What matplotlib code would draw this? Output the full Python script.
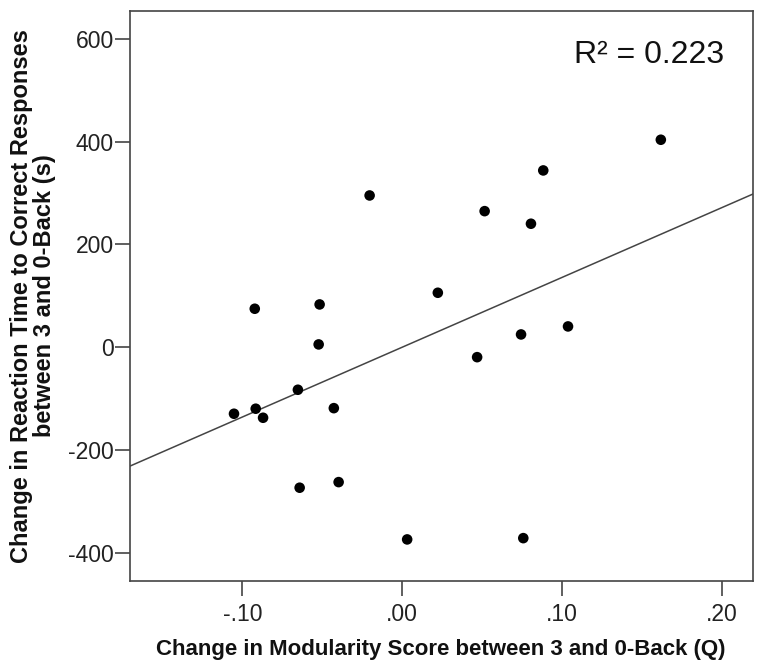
import numpy as np
import matplotlib
matplotlib.use("Agg")
import matplotlib.pyplot as plt

plt.rcParams['font.family'] = ['Liberation Sans', 'DejaVu Sans']
plt.rcParams['axes.unicode_minus'] = False

# Change in modularity score (Q) between 3-back and 0-back
modularity_change = [0.1619, 0.0883, -0.0204, 0.0516, 0.0806, 0.0223, -0.0923,
                     -0.0517, -0.0523, 0.1038, 0.0744, 0.0469, -0.1053, -0.0917,
                     -0.0871, -0.0653, -0.0428, -0.0642, -0.0398, 0.0031, 0.0758]
# Change in reaction time to correct responses (s)
rt_change = [403.5, 343.8, 295.1, 264.6, 240.1, 105.8, 74.7,
             83.1, 5.3, 40.3, 24.7, -19.5, -129.6, -119.8,
             -137.4, -82.9, -118.7, -273.5, -262.6, -374.1, -371.6]

x_ticks = [-0.10, 0.00, 0.10, 0.20]
x_tick_labels = ['-.10', '.00', '.10', '.20']
y_ticks = [-400, -200, 0, 200, 400, 600]
r2_text = 'R\u00b2 = 0.223'

x = np.array(modularity_change)
y = np.array(rt_change)

W, H = 763, 670
fig = plt.figure(figsize=(W / 100, H / 100), dpi=100)
ax = fig.add_axes([130 / W, 1 - 581 / H, 623 / W, 570 / H])

xmin, xmax = -0.1704, 0.2196
ymin, ymax = -455, 654
ax.set_xlim(xmin, xmax)
ax.set_ylim(ymin, ymax)

# least-squares fit line across the full x-range
slope, intercept = np.polyfit(x, y, 1)
xs = np.array([xmin, xmax])
ax.plot(xs, slope * xs + intercept, color='#444444', lw=1.1, zorder=2)

ax.scatter(x, y, s=58, color='black', edgecolors='none', zorder=3)

ax.set_xticks(x_ticks)
ax.set_xticklabels(x_tick_labels)
ax.set_yticks(y_ticks)

for sp in ax.spines.values():
    sp.set_color('#444444')
    sp.set_linewidth(1.2)

ax.tick_params(axis='both', direction='out', length=10.5, width=1.2,
               color='#444444', labelsize=16.5, labelcolor='#222222')
ax.tick_params(axis='y', pad=1)
ax.tick_params(axis='x', pad=5)

fig.text(441 / W, 1 - 650 / H,
         'Change in Modularity Score between 3 and 0-Back (Q)',
         fontsize=16, fontweight='bold', color='#111111',
         ha='center', va='center')
fig.text(33 / W, 1 - 296 / H,
         'Change in Reaction Time to Correct Responses\nbetween 3 and 0-Back (s)',
         fontsize=17, fontweight='bold', color='#111111',
         ha='center', va='center', rotation=90, linespacing=0.98,
         multialignment='center')

ax.text(0.953, 0.923, r2_text, transform=ax.transAxes, ha='right', va='center',
        fontsize=23, color='#111111')

fig.savefig('out.png', dpi=100)
